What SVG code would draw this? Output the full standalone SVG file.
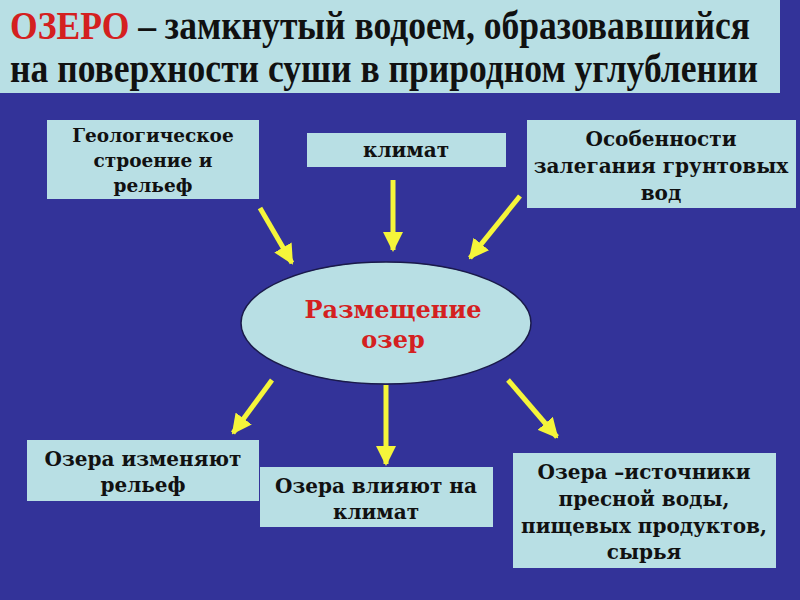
<svg xmlns="http://www.w3.org/2000/svg" width="800" height="600" viewBox="0 0 800 600">
<defs>
<style>
.box{fill:#b8dfe4;}
.t{font-family:"DejaVu Serif","Liberation Serif",serif;font-weight:bold;font-size:20px;fill:#111;text-anchor:middle;}
.s{font-size:18.5px;}
.title{font-family:"Liberation Serif","DejaVu Serif",serif;font-weight:bold;font-size:35px;fill:#111;}
.red{fill:#d42020;}
.big{font-size:24px;}
.arr{stroke:#f5f53a;stroke-width:5;fill:none;marker-end:url(#ah);}
</style>
<marker id="ah" viewBox="0 0 10 10" refX="9" refY="5" markerWidth="4" markerHeight="4" orient="auto" markerUnits="strokeWidth">
<path d="M0,0 L10,5 L0,10 Z" fill="#f5f53a"/>
</marker>
</defs>
<rect width="800" height="600" fill="#333399"/>
<g id="title">
<rect x="0" y="0" width="780" height="93" class="box"/>
<text class="title" transform="translate(10,39) scale(1,1.12)" x="0" y="0" textLength="740" lengthAdjust="spacingAndGlyphs"><tspan class="red">ОЗЕРО</tspan> – замкнутый водоем, образовавшийся</text>
<text class="title" transform="translate(10,82) scale(1,1.12)" x="0" y="0" textLength="748" lengthAdjust="spacingAndGlyphs">на поверхности суши в природном углублении</text>
</g>
<g id="geo">
<rect x="47" y="120" width="212" height="79" class="box"/>
<text class="t s" x="153" y="142">Геологическое</text>
<text class="t s" x="153" y="167">строение и</text>
<text class="t s" x="153" y="192">рельеф</text>
</g>
<g id="klimat">
<rect x="307" y="133" width="199" height="34" class="box"/>
<text class="t" x="406" y="157">климат</text>
</g>
<g id="grunt">
<rect x="527" y="120" width="269" height="88" class="box"/>
<text class="t" x="661" y="146">Особенности</text>
<text class="t" x="661" y="173">залегания грунтовых</text>
<text class="t" x="661" y="200">вод</text>
</g>
<g id="center">
<ellipse cx="386" cy="323" rx="145" ry="61" fill="#b8dfe4" stroke="#1a1a4a" stroke-width="1.5"/>
<text class="t red big" x="393" y="318">Размещение</text>
<text class="t red big" x="393" y="348">озер</text>
</g>
<g id="relief">
<rect x="27" y="440" width="232" height="61" class="box"/>
<text class="t" x="143" y="466">Озера изменяют</text>
<text class="t" x="143" y="492">рельеф</text>
</g>
<g id="climate2">
<rect x="260" y="467" width="233" height="60" class="box"/>
<text class="t" x="376" y="493">Озера влияют на</text>
<text class="t" x="376" y="519">климат</text>
</g>
<g id="source">
<rect x="513" y="453" width="263" height="115" class="box"/>
<text class="t" x="644" y="479">Озера –источники</text>
<text class="t" x="644" y="506">пресной воды,</text>
<text class="t" x="644" y="533">пищевых продуктов,</text>
<text class="t" x="644" y="559">сырья</text>
</g>
<g id="connectors">
<line class="arr" x1="260" y1="208" x2="292" y2="263"/>
<line class="arr" x1="393" y1="180" x2="393" y2="250"/>
<line class="arr" x1="520" y1="196" x2="470" y2="258"/>
<line class="arr" x1="272" y1="380" x2="233" y2="433"/>
<line class="arr" x1="386" y1="385" x2="386" y2="464"/>
<line class="arr" x1="508" y1="380" x2="557" y2="437"/>
</g>
</svg>
